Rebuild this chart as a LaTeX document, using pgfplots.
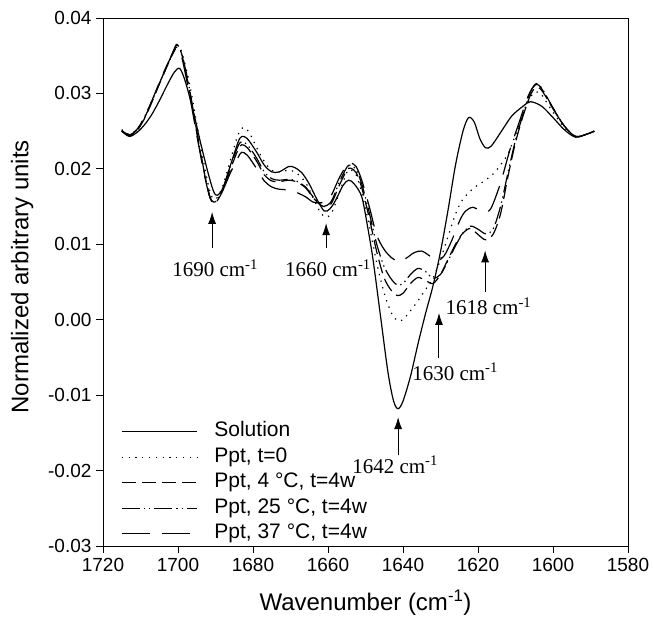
\documentclass[border=0pt]{standalone}
\usepackage{pgfplots}
\pgfplotsset{compat=1.18}
\usepackage{fontspec}
\setmainfont{Liberation Sans}
\newfontfamily\serif{Liberation Serif}
\usetikzlibrary{arrows.meta}

\pgfplotstableread{
x y
1715 0.0250
1713 0.0243
1711 0.0248
1709 0.0258
1707 0.0272
1705 0.0290
1703 0.0310
1701 0.0328
1699.5 0.0333
1698 0.0315
1696 0.0278
1694 0.0235
1692 0.0195
1690.5 0.0170
1689.5 0.0165
1688 0.0175
1686 0.0205
1684 0.0235
1683 0.0243
1681.5 0.0240
1679 0.0222
1677 0.0205
1675 0.0196
1673 0.0196
1670.5 0.0203
1669 0.0202
1667 0.0195
1665 0.0180
1663 0.0160
1661 0.0144
1659.5 0.0147
1658 0.0158
1656 0.0178
1654.5 0.0185
1653 0.0180
1651 0.0163
1649.5 0.0125
1648 0.0080
1646 0.0005
1644 -0.0070
1642.5 -0.0108
1641.3 -0.0118
1640 -0.0108
1638 -0.0075
1636 -0.0032
1634 0.0008
1632 0.0045
1630 0.0090
1628 0.0145
1626 0.0205
1624 0.0250
1622.5 0.0268
1621 0.0262
1619.5 0.0240
1618 0.0228
1616.5 0.0230
1614 0.0248
1611 0.0270
1608 0.0283
1606 0.0289
1603 0.0283
1600 0.0268
1597 0.0252
1594 0.0242
1591 0.0246
1589 0.0250
}\solution

\pgfplotstableread{
x y
1715 0.0252
1713 0.0246
1711 0.0252
1709 0.0268
1707 0.0290
1705 0.0313
1703 0.0335
1701 0.0357
1700 0.0362
1699 0.0355
1697 0.0315
1695 0.0260
1693 0.0205
1691.5 0.0170
1690.5 0.0160
1689.5 0.0162
1688 0.0178
1686 0.0212
1684 0.0245
1682.5 0.0255
1681 0.0248
1679 0.0228
1677 0.0210
1675 0.0198
1673 0.0196
1670.5 0.0198
1668.5 0.0195
1666 0.0182
1664 0.0162
1662 0.0142
1660.5 0.0136
1659 0.0142
1657 0.0168
1655 0.0195
1654 0.0199
1652.5 0.0192
1651 0.0168
1649 0.0125
1647 0.0075
1645 0.0035
1643 0.0008
1641.5 -0.0001
1640 0.0000
1638 0.0012
1636 0.0025
1634 0.0040
1632 0.0055
1630 0.0080
1628 0.0110
1626 0.0140
1624 0.0160
1621 0.0175
1618 0.0185
1616 0.0193
1614 0.0205
1612 0.0220
1610 0.0245
1608 0.0272
1606 0.0295
1604.5 0.0302
1603 0.0298
1600 0.0275
1597 0.0255
1594 0.0243
1591 0.0246
1589 0.0250
}\pptzero

\pgfplotstableread{
x y
1715 0.0250
1713 0.0244
1711 0.0250
1709 0.0266
1707 0.0288
1705 0.0312
1703 0.0335
1701 0.0358
1700.3 0.0364
1699 0.0352
1697 0.0305
1695 0.0248
1693 0.0195
1691.5 0.0163
1690.5 0.0155
1689.5 0.0158
1688 0.0172
1686 0.0200
1684 0.0225
1683 0.0232
1681.5 0.0228
1679 0.0210
1677 0.0192
1675 0.0184
1673 0.0183
1670.5 0.0185
1668.5 0.0183
1666 0.0175
1664 0.0162
1662 0.0152
1660.5 0.0150
1659 0.0155
1657 0.0178
1655 0.0198
1654 0.0201
1652.5 0.0195
1651 0.0175
1649 0.0135
1647 0.0090
1645 0.0055
1643 0.0038
1641.5 0.0032
1640 0.0035
1638 0.0048
1636 0.0056
1634 0.0052
1632 0.0048
1630 0.0060
1628 0.0080
1626 0.0100
1624 0.0115
1622 0.0121
1620 0.0113
1618 0.0106
1616 0.0113
1614 0.0140
1612 0.0190
1610 0.0235
1608 0.0270
1606 0.0298
1604.5 0.0308
1603 0.0304
1600 0.0280
1597 0.0257
1594 0.0243
1591 0.0246
1589 0.0250
}\pptfour

\pgfplotstableread{
x y
1715 0.0251
1713 0.0245
1711 0.0251
1709 0.0267
1707 0.0289
1705 0.0313
1703 0.0336
1701 0.0359
1700.3 0.0365
1699 0.0353
1697 0.0308
1695 0.0250
1693 0.0196
1691.5 0.0163
1690.5 0.0156
1689.5 0.0159
1688 0.0174
1686 0.0204
1684 0.0230
1683 0.0236
1681.5 0.0232
1679 0.0214
1677 0.0196
1675 0.0187
1673 0.0185
1670.5 0.0186
1668.5 0.0184
1666 0.0176
1664 0.0163
1662 0.0153
1660.5 0.0151
1659 0.0158
1657 0.0182
1655 0.0202
1654 0.0205
1652.5 0.0199
1651 0.0180
1649 0.0142
1647 0.0100
1645 0.0070
1643 0.0053
1641.5 0.0046
1640 0.0048
1638 0.0060
1636 0.0068
1634 0.0064
1632 0.0055
1630 0.0060
1628 0.0078
1626 0.0098
1624 0.0115
1622 0.0124
1620 0.0120
1618 0.0114
1616 0.0120
1614 0.0150
1612 0.0195
1610 0.0238
1608 0.0272
1606 0.0302
1604.5 0.0313
1603 0.0307
1600 0.0281
1597 0.0257
1594 0.0243
1591 0.0246
1589 0.0250
}\ppttwentyfive

\pgfplotstableread{
x y
1715 0.0250
1713 0.0245
1711 0.0252
1709 0.0268
1707 0.0290
1705 0.0314
1703 0.0337
1701 0.0356
1700.3 0.0360
1699 0.0348
1697 0.0300
1695 0.0245
1693 0.0193
1691.5 0.0162
1690.5 0.0156
1689.5 0.0160
1688 0.0172
1686 0.0195
1684 0.0215
1683 0.0222
1681.5 0.0218
1679 0.0200
1677 0.0184
1675 0.0176
1673 0.0173
1670.5 0.0172
1668.5 0.0169
1666 0.0163
1664 0.0156
1662 0.0155
1660.5 0.0157
1659 0.0166
1657 0.0188
1655 0.0205
1654 0.0208
1652.5 0.0203
1651 0.0185
1649 0.0150
1647 0.0112
1645 0.0093
1643 0.0082
1641 0.0077
1639 0.0082
1637 0.0089
1635 0.0091
1633 0.0085
1631 0.0078
1629 0.0085
1627 0.0105
1625 0.0130
1623.5 0.0143
1621.5 0.0149
1619.5 0.0145
1618 0.0143
1616.5 0.0148
1614 0.0181
1611.5 0.0225
1609 0.0262
1606.5 0.0298
1604.5 0.0312
1603 0.0306
1600 0.0280
1597 0.0257
1594 0.0243
1591 0.0246
1589 0.0250
}\pptthirtyseven

\begin{document}
\begin{tikzpicture}
\begin{axis}[
  scale only axis, width=525pt, height=528pt,
  x dir=reverse,
  xmin=1580, xmax=1720, ymin=-0.03, ymax=0.04,
  xtick={1580,1600,1620,1640,1660,1680,1700,1720},
  xticklabels={1580,1600,1620,1640,1660,1680,1700,1720},
  ytick={-0.03,-0.02,-0.01,0,0.01,0.02,0.03,0.04},
  yticklabels={-0.03,-0.02,-0.01,0.00,0.01,0.02,0.03,0.04},
  scaled x ticks=false, scaled y ticks=false,
  tick align=outside, tick pos=left, major tick length=7pt,
  tick style={line width=0.9pt, black},
  axis line style={line width=0.9pt},
  ticklabel style={font=\fontsize{19}{19}\selectfont},
  xticklabel style={yshift=-2pt},
  yticklabel style={xshift=-1pt},
  xlabel={Wavenumber (cm\textsuperscript{-1})},
  ylabel={Normalized arbitrary units},
  label style={font=\fontsize{24}{24}\selectfont},
  xlabel style={at={(axis description cs:0.5,-0.107)}, anchor=center},
  ylabel style={at={(axis description cs:-0.154,0.510)}, anchor=center, rotate=0},
  legend image code/.code={\draw[#1] (0pt,0pt) -- (75pt,0pt);},
  legend cell align=left,
  legend style={at={(axis description cs:0,0)}, anchor=south west,
    xshift=15pt, yshift=0pt, draw=none, fill=none,
    font=\fontsize{21}{21}\selectfont, row sep=5.5pt,
    nodes={inner sep=1pt, text height=14pt, text depth=4pt},
    /tikz/every odd column/.append style={column sep=16pt}},
  every axis plot/.append style={line width=1.2pt, black, smooth, no markers},
]
\addplot[black, solid] table {\solution};
\addlegendentry{Solution}
\addplot[black, dash pattern=on 1.3pt off 5.5pt] table {\pptzero};
\addlegendentry{Ppt, t=0}
\addplot[black, dash pattern=on 14pt off 6pt] table {\pptfour};
\addlegendentry{Ppt, 4 °C, t=4w}
\addplot[black, dash pattern=on 18pt off 4pt on 1.3pt off 4pt on 1.3pt off 4pt] table {\ppttwentyfive};
\addlegendentry{Ppt, 25 °C, t=4w}
\addplot[black, dash pattern=on 28pt off 12pt] table {\pptthirtyseven};
\addlegendentry{Ppt, 37 °C, t=4w}

\draw[line width=1pt, -{Latex[length=12pt,width=8pt]}] (axis cs:1690.9,0.0095) -- (axis cs:1690.9,0.0143);
\draw[line width=1pt, -{Latex[length=12pt,width=8pt]}] (axis cs:1660.5,0.0095) -- (axis cs:1660.5,0.0128);
\draw[line width=1pt, -{Latex[length=12pt,width=8pt]}] (axis cs:1618.1,0.0037) -- (axis cs:1618.1,0.0092);
\draw[line width=1pt, -{Latex[length=12pt,width=8pt]}] (axis cs:1630.4,-0.0051) -- (axis cs:1630.4,0.0009);
\draw[line width=1pt, -{Latex[length=12pt,width=8pt]}] (axis cs:1641.3,-0.0179) -- (axis cs:1641.3,-0.0129);

\node[font=\serif\fontsize{21}{21}\selectfont, inner sep=0pt] at (axis cs:1690.1,0.0068) {1690 cm\textsuperscript{-1}};
\node[font=\serif\fontsize{21}{21}\selectfont, inner sep=0pt] at (axis cs:1660.0,0.0068) {1660 cm\textsuperscript{-1}};
\node[font=\serif\fontsize{21}{21}\selectfont, inner sep=0pt] at (axis cs:1617.2,0.0018) {1618 cm\textsuperscript{-1}};
\node[font=\serif\fontsize{21}{21}\selectfont, inner sep=0pt] at (axis cs:1626.1,-0.0069) {1630 cm\textsuperscript{-1}};
\node[font=\serif\fontsize{21}{21}\selectfont, inner sep=0pt] at (axis cs:1642.1,-0.0192) {1642 cm\textsuperscript{-1}};
\end{axis}
\pgfresetboundingbox
\path (current axis.south west) ++(-103pt,-70pt) rectangle ++(653pt,616pt);
\end{tikzpicture}
\end{document}
